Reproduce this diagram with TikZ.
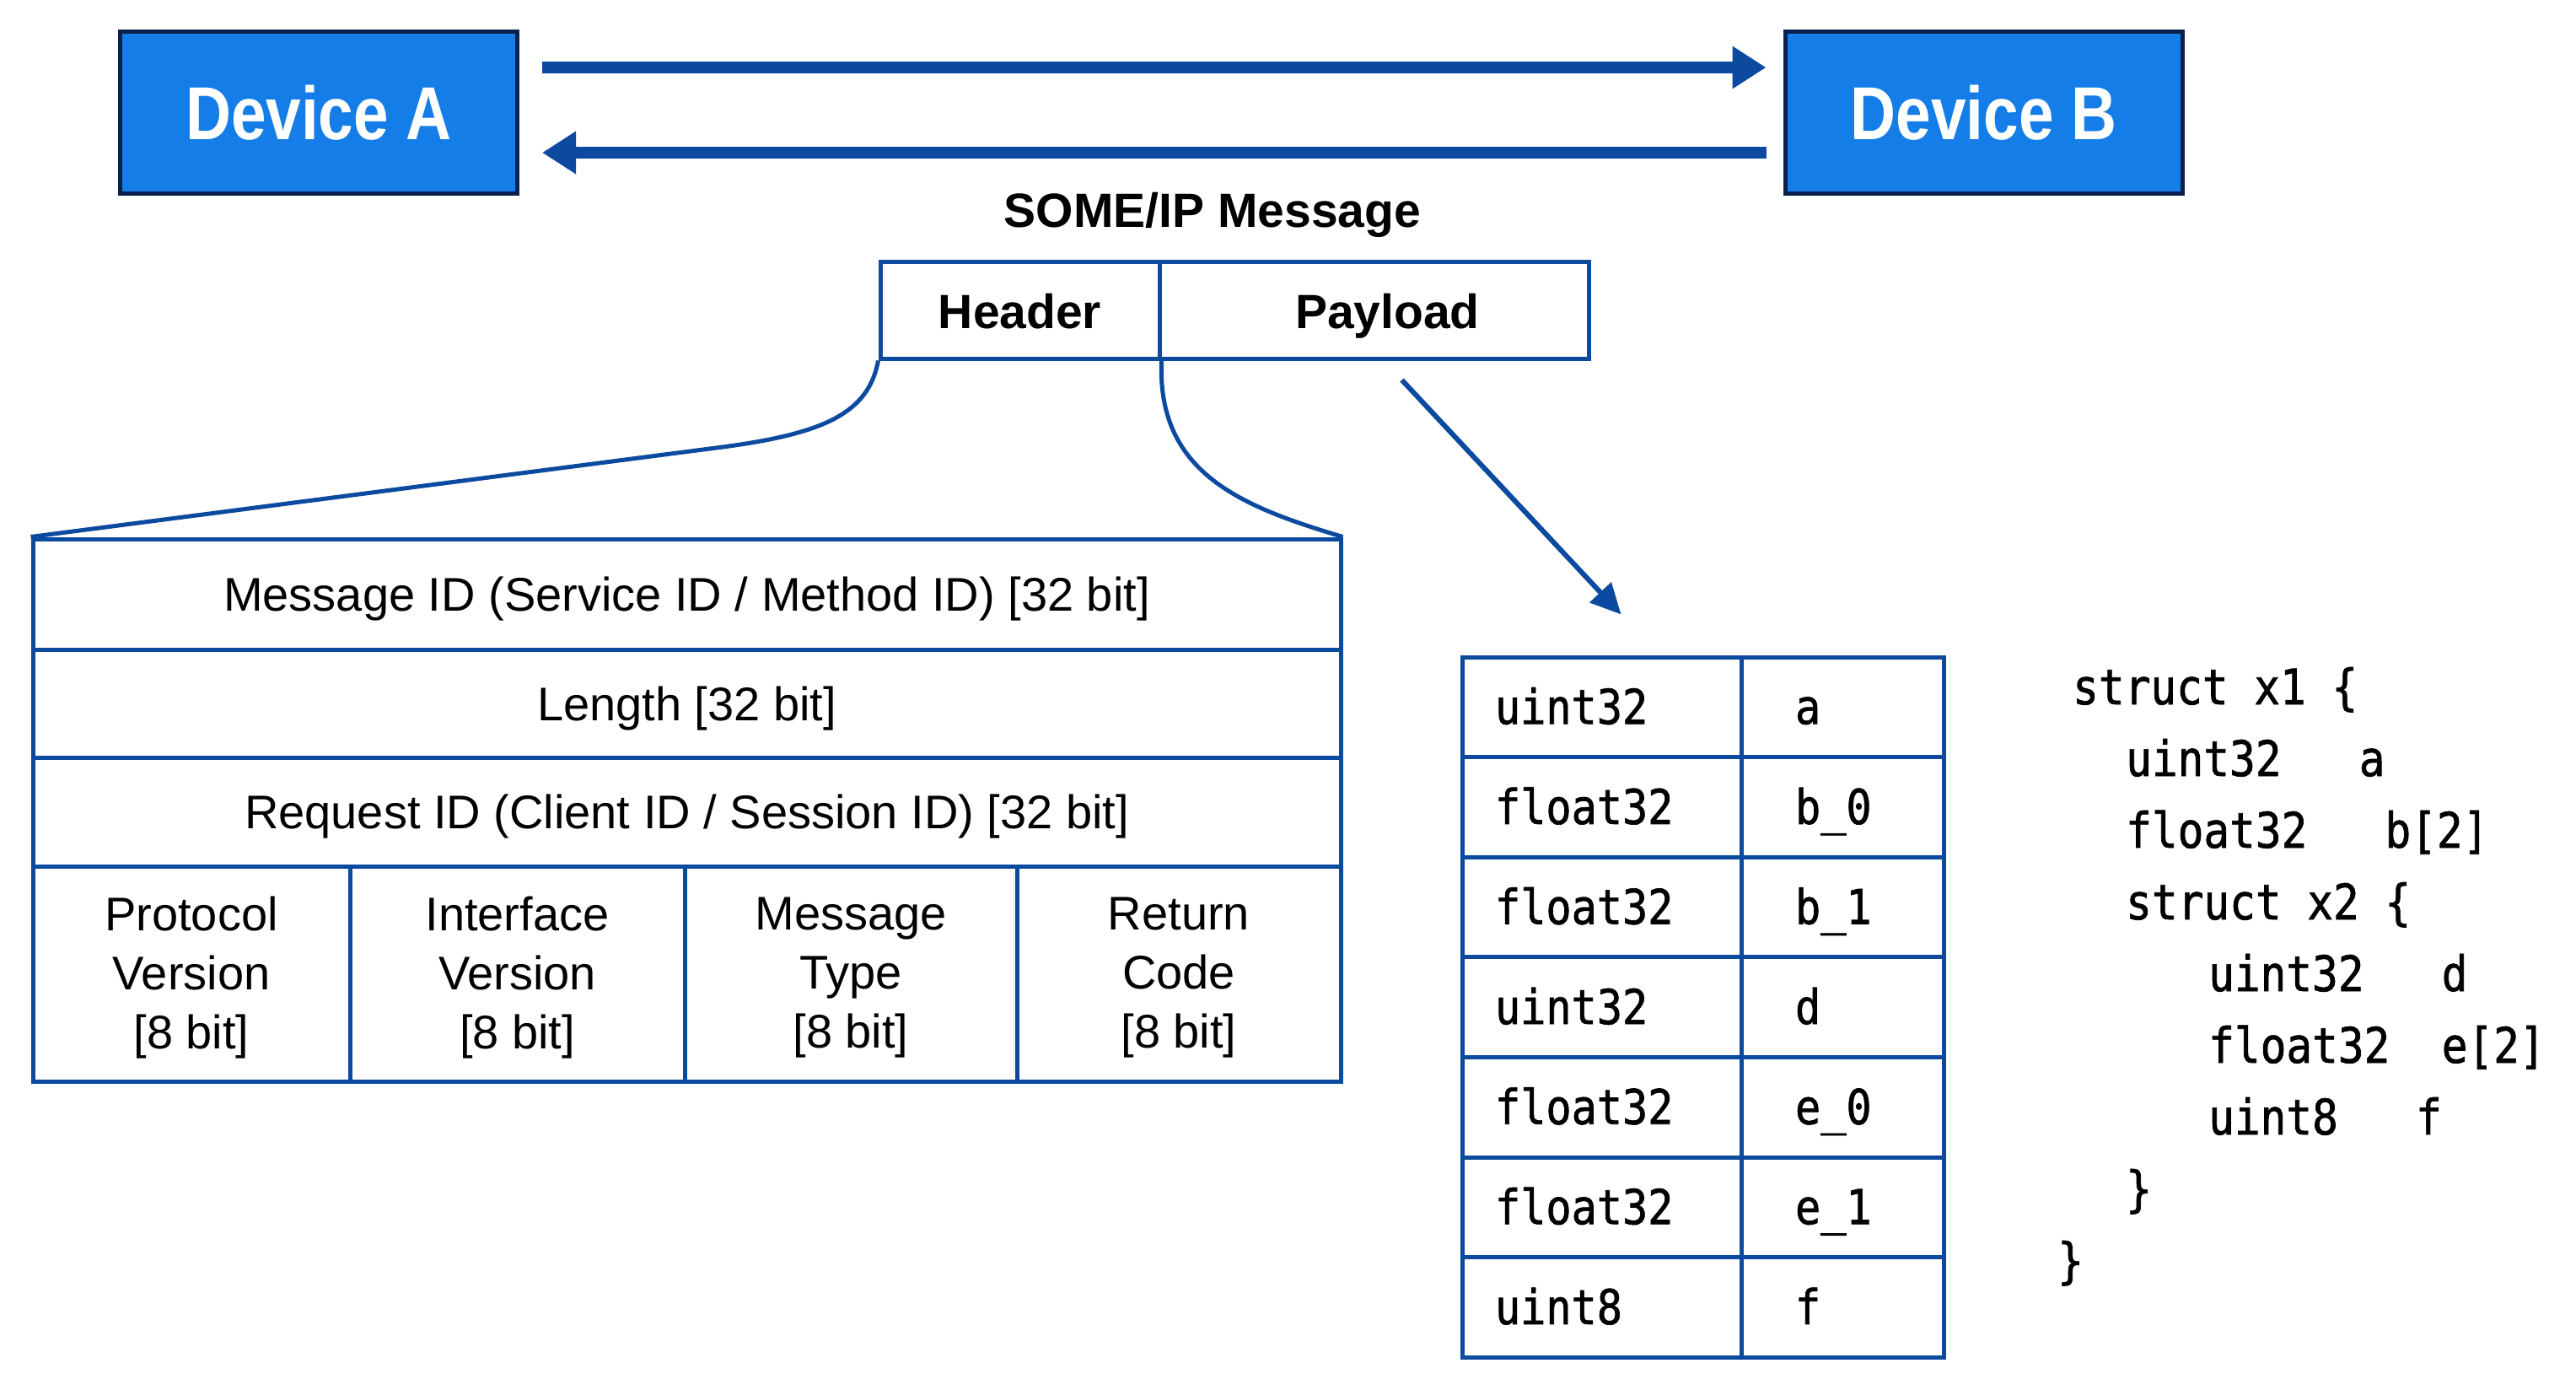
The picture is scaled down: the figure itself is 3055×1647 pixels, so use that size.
\documentclass[tikz,border=0pt]{standalone}
\usepackage{fontspec}
\setmainfont{Liberation Sans}
\newfontfamily\devfont[FakeStretch=0.84]{Liberation Sans}
\newfontfamily\codefont[FakeStretch=0.88,FakeBold=1.2]{DejaVu Sans Mono}
\usetikzlibrary{arrows.meta,calc}
\definecolor{devfill}{RGB}{20,125,232}
\definecolor{devborder}{RGB}{12,32,78}
\definecolor{lineblue}{RGB}{12,74,160}
\begin{document}
\begin{tikzpicture}[x=1pt,y=-1pt,
  devbox/.style={draw=devborder,line width=5,fill=devfill,text=white,
    minimum width=471,minimum height=192,inner sep=0,
    font=\devfont\bfseries\fontsize{89}{100}\selectfont},
  bigarr/.style={draw=lineblue,line width=14,-{Triangle[length=40,width=48]}},
  thinarr/.style={draw=lineblue,line width=6,-{Triangle[length=36,width=34]}},
  msgbox/.style={draw=lineblue,line width=5,inner sep=0,minimum height=115,
    text height=48,text depth=4,
    font=\bfseries\fontsize{57}{68}\selectfont},
  hrow/.style={draw=lineblue,line width=5,inner sep=0,minimum width=1551,
    text height=46,text depth=6,
    font=\fontsize{56}{69}\selectfont},
  hcell/.style={draw=lineblue,line width=5,inner sep=0,minimum height=255,
    align=center,text depth=2,font=\fontsize{56}{70}\selectfont},
  tycell/.style={draw=lineblue,line width=5,inner xsep=39,inner ysep=0,
    text width=253,align=left,minimum height=118.6,text height=44,text depth=4,
    font=\codefont\fontsize{57}{66}\selectfont},
  nmcell/.style={draw=lineblue,line width=5,inner xsep=64,inner ysep=0,
    text width=112,align=left,minimum height=118.6,text height=44,text depth=4,
    font=\codefont\fontsize{57}{66}\selectfont},
  codeln/.style={anchor=base west,inner sep=0,
    font=\codefont\fontsize{58}{66}\selectfont},
  curve/.style={draw=lineblue,line width=5}
]
\useasboundingbox[fill=white] (0,0) rectangle (3055,1647);

% devices
\node[devbox] (devA) at (378,133.5) {Device A};
\node[devbox] (devB) at (2352.5,133.5) {Device B};
\draw[bigarr] ($(devA.east)+(27,-53.5)$) -- ($(devB.west)+(-20,-53.5)$);
\draw[bigarr] ($(devB.west)+(-20,47.5)$) -- ($(devA.east)+(27,47.5)$);

% message
\node[font=\bfseries\fontsize{57}{68}\selectfont,inner sep=0] (title) at (1438,255) {SOME/IP Message};
\node[msgbox,minimum width=331] (hdr) at (1209.5,367.5) {Header};
\node[msgbox,minimum width=509] (pay) at (1629.5,367.5) {\hspace*{32pt}Payload};

% header table
\node[hrow,minimum height=131] (r1) at (814.5,704.5) {Message ID (Service ID / Method ID) [32 bit]};
\node[hrow,minimum height=128] (r2) at (814.5,834) {Length [32 bit]};
\node[hrow,minimum height=129] (r3) at (814.5,962.5) {Request ID (Client ID / Session ID) [32 bit]};
\node[hcell,minimum width=376] (c1) at (227,1154.5) {Protocol\\Version\\{[8 bit]}};
\node[hcell,minimum width=397] (c2) at (613.5,1154.5) {Interface\\Version\\{[8 bit]}};
\node[hcell,minimum width=394] (c3) at (1009,1154.5) {Message\\Type\\{[8 bit]}};
\node[hcell,minimum width=384] (c4) at (1398,1154.5) {Return\\Code\\{[8 bit]}};

% zoom curves
\draw[curve] (hdr.south west) .. controls (1030,490) and (977,514) .. (857,530) -- (r1.north west);
\draw[curve] (hdr.south east) .. controls (1372,560) and (1470,600) .. (r1.north east);

% payload table
\foreach \ty/\nm [count=\i] in {uint32/a, float32/b\_0, float32/b\_1, uint32/d, float32/e\_0, float32/e\_1, uint8/f}{
  \node[tycell] (ty\i) at (1899.5,{779+118.6*(\i-1)+59.3}) {\ty};
  \node[nmcell] (nm\i) at (2185,{779+118.6*(\i-1)+59.3}) {\nm};
}
\draw[thinarr] ($(pay.south)+(33,23)$) -- ($(ty1.north west)+(191,-48)$);

% code
\node[codeln] (k1) at (2458,835) {struct x1 \{};
\node[codeln] (k2) at (2521,920) {uint32\ \ \ a};
\node[codeln] (k3) at (2521,1005) {float32\ \ \ b[2]};
\node[codeln] (k4) at (2521,1090) {struct x2 \{};
\node[codeln] (k5) at (2619,1175) {uint32\ \ \ d};
\node[codeln] (k6) at (2619,1260) {float32\ \ e[2]};
\node[codeln] (k7) at (2619,1345) {uint8\ \ \ f};
\node[codeln] (k8) at (2521,1430) {\}};
\node[codeln] (k9) at (2440,1515) {\}};
\end{tikzpicture}
\end{document}
